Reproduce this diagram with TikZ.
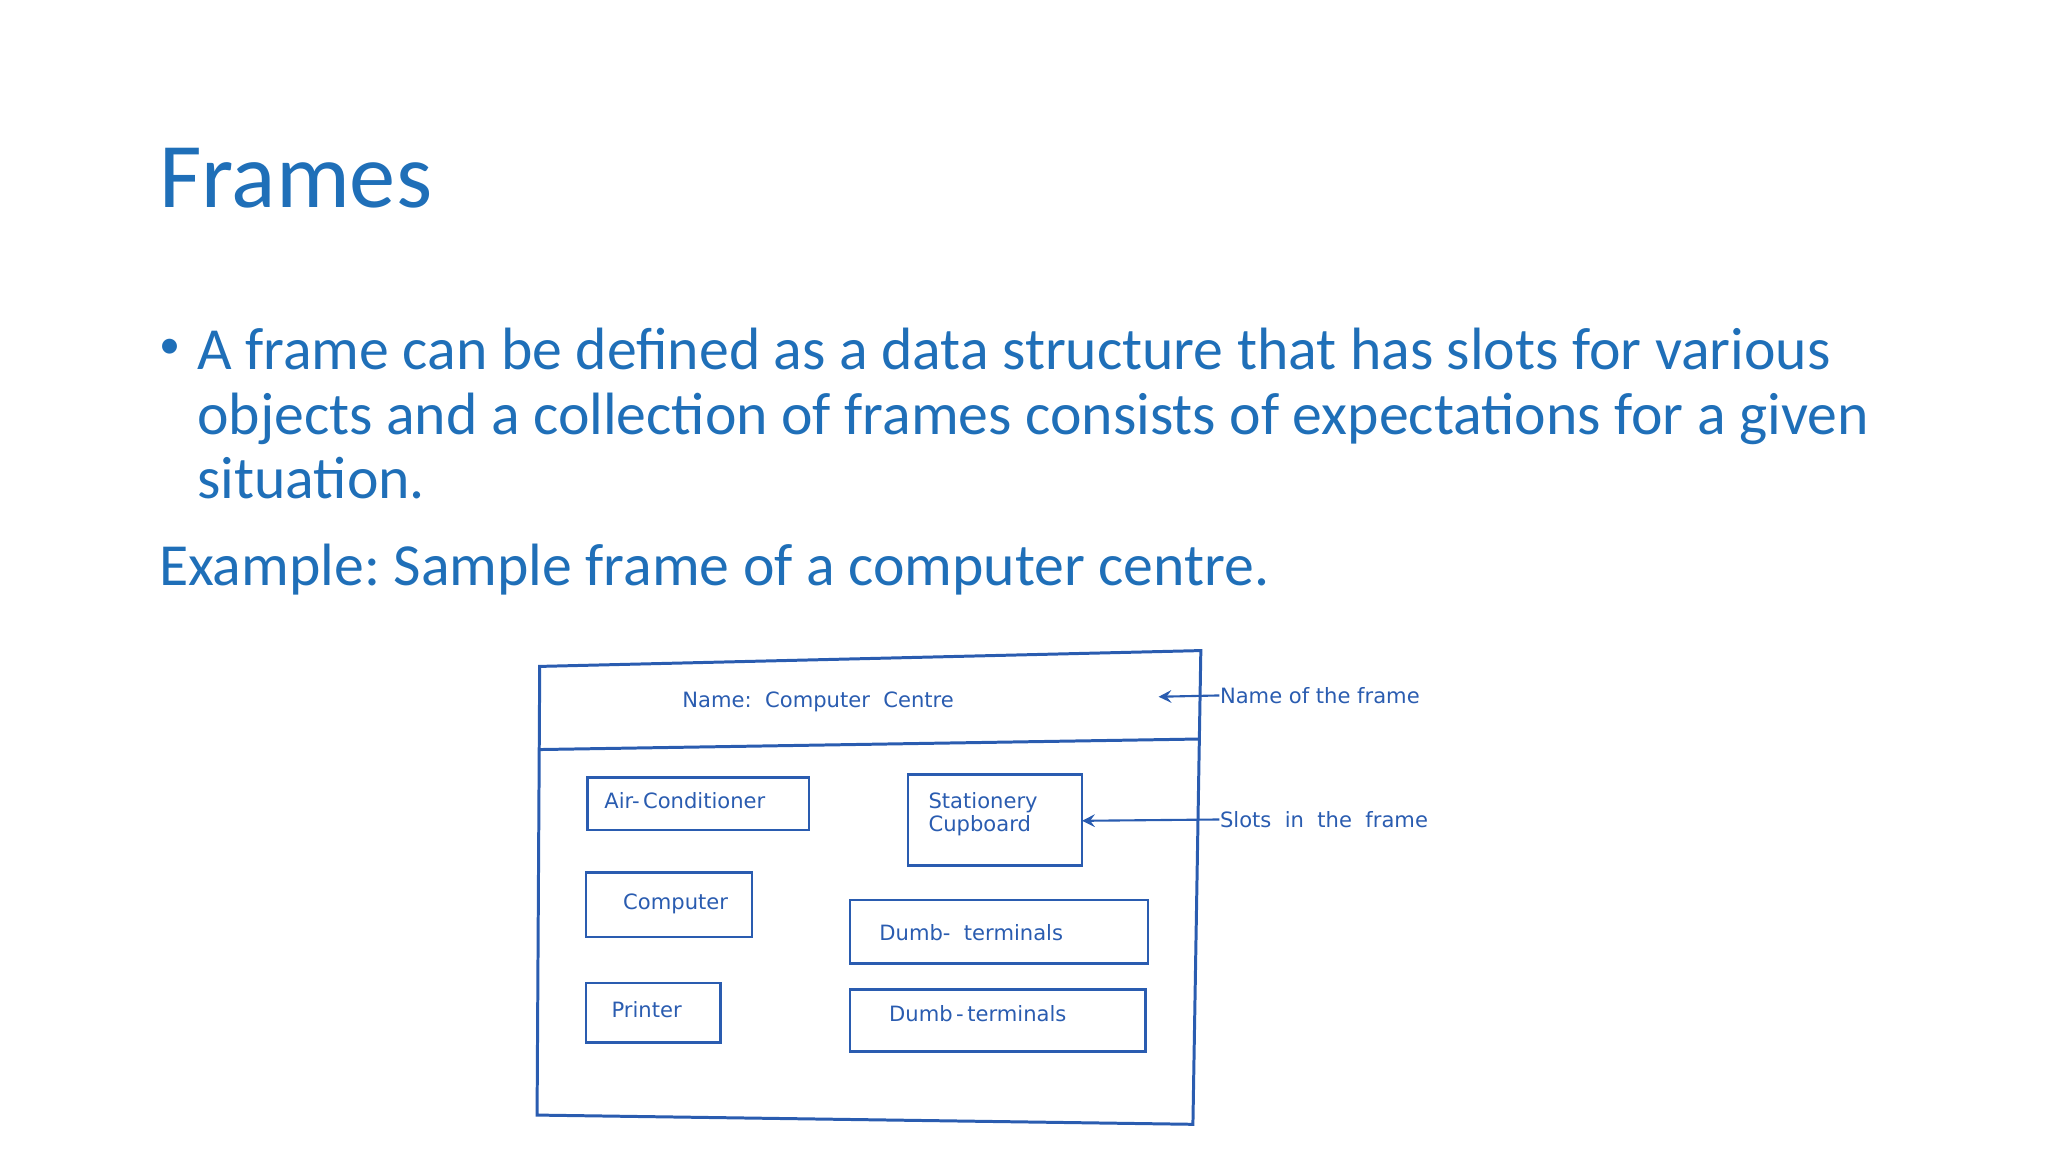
\documentclass[tikz,border=0pt]{standalone}
\usepackage{fontspec}
\setmainfont{Carlito}
\newfontfamily\handfont{DejaVu Sans}
\definecolor{slide}{HTML}{1F6FB8}
\definecolor{ink}{HTML}{2A5CB0}
\frenchspacing
\begin{document}
\begin{tikzpicture}[x=0.013196cm,y=-0.013196cm,
  txt/.style={inner sep=0,anchor=base west,text=slide},
  slot/.style={draw=ink,line width=0.75pt},
  lab/.style={inner sep=0,text=ink,font=\handfont\fontsize{6}{6.8}\selectfont},
  con/.style={draw=ink,line width=0.6pt,-stealth}]
\useasboundingbox (0,0) rectangle (1552,873);
\node[txt,font=\fontsize{26.3}{30}\selectfont] (title) at (120,157) {Frames};
\node[txt,font=\fontsize{12}{14}\selectfont] (dot) at (120,272) {\textbullet};
\node[txt,font=\fontsize{17}{20}\selectfont] (l1) at (149,280) {A frame can be defined as a data structure that has slots for various};
\node[txt,font=\fontsize{17}{20}\selectfont] (l2) at (149,329) {objects and a collection of frames consists of expectations for a given};
\node[txt,font=\fontsize{17}{20}\selectfont] (l3) at (149,378) {situation.};
\node[txt,font=\fontsize{17}{20}\selectfont] (ex) at (120,444) {Example: Sample frame of a computer centre.};
% frame outline
\draw[ink,line width=0.85pt] (409,505) -- (910,493) -- (904,852) -- (407,845) -- cycle;
\draw[ink,line width=0.85pt] (409,568) -- (910,560);
\node[lab] (name) at (620,532) {Name:\ \ Computer\ \ Centre};
\draw[slot] (445,589) rectangle (613,629);
\node[lab] (ac) at (519,607) {Air-\,Conditioner};
\draw[slot] (688,587) rectangle (820,656);
\node[lab,align=left] (sc) at (745,617) {Stationery\\Cupboard};
\draw[slot] (444,661) rectangle (570,710);
\node[lab] (comp) at (512,685) {Computer};
\draw[slot] (644,682) rectangle (870,730);
\node[lab] (d1) at (736,707) {Dumb-\ \ terminals};
\draw[slot] (444,745) rectangle (546,790);
\node[lab] (pr) at (490,765) {Printer};
\draw[slot] (644,750) rectangle (868,797);
\node[lab] (d2) at (741,768) {Dumb\,-\,terminals};
\node[lab,anchor=west] (nf) at (924,527) {Name of the frame};
\node[lab,anchor=west] (sf) at (924,621) {Slots\ \ in\ \ the\ \ frame};
\coordinate (nh) at (878,528);
\coordinate (sh) at (820,622);
\draw[con] (nf.west) -- (nh);
\draw[con] (sf.west) -- (sh);
\end{tikzpicture}
\end{document}
